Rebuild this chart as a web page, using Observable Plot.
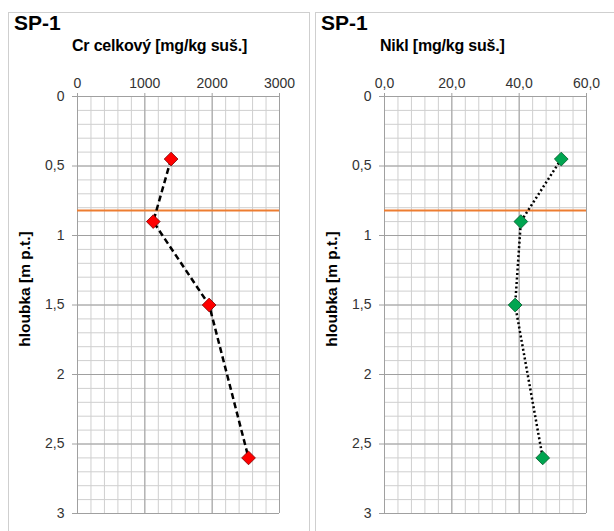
<!DOCTYPE html>
<html>
<head>
<meta charset="utf-8">
<script src="https://cdn.jsdelivr.net/npm/d3@7"></script>
<script src="https://cdn.jsdelivr.net/npm/@observablehq/plot@0.6"></script>
<style>
  html, body { margin: 0; padding: 0; background: #fff; }
  #wrap { position: relative; width: 614px; height: 531px; overflow: hidden; background: #fff;
          font-family: "Liberation Sans", Arial, sans-serif; }
  .panel { position: absolute; top: 12px; height: 560px; border: 1.5px solid #cfcfcf; box-sizing: border-box; }
  .title { position: absolute; font-weight: bold; font-size: 21px; color: #000; }
  .sub { position: absolute; font-weight: bold; font-size: 16px; color: #000; letter-spacing: -0.2px; }
  .chart { position: absolute; top: 0; }
  .chart svg { overflow: visible; }
</style>
</head>
<body>
<div id="wrap">
  <div class="panel" style="left:8px;width:302px"></div>
  <div class="panel" style="left:315px;width:310px"></div>
  <div class="title" style="left:14px;top:11px">SP-1</div>
  <div class="title" style="left:321px;top:11px">SP-1</div>
  <div class="sub" id="sub1" style="left:72px;top:37px"></div>
  <div class="sub" id="sub2" style="left:380px;top:37px"></div>
  <div class="chart" id="c1" style="left:0px"></div>
  <div class="chart" id="c2" style="left:307px"></div>
</div>
<script>
// ---- data ----
const depths = [0.45, 0.9, 1.5, 2.6];
const crValues = [1390, 1125, 1955, 2540];
const niValues = [52.5, 40.5, 38.8, 47.0];
const boundaryDepth = [0.82];
const titleText = "SP-1";
const crLabel = "Cr celkový [mg/kg suš.]";
const niLabel = "Nikl [mg/kg suš.]";
const yLabel = "hloubka [m p.t.]";
const yTicks = [0, 0.5, 1, 1.5, 2, 2.5, 3];
const crTicks = [0, 1000, 2000, 3000];
const niTicks = [0, 20, 40, 60];

document.getElementById("sub1").textContent = crLabel;
document.getElementById("sub2").textContent = niLabel;

const yMinor = d3.range(0, 31).map(i => i / 10);
const commaFmt = d => String(d).replace(".", ",");

function panel(values, xMax, xTicks, xFmt, lineDash, lineCap, fill, stroke) {
  const xMinor = d3.range(0, 16).map(i => i * xMax / 15);
  const data = depths.map((d, i) => ({depth: d, v: values[i]}));
  return Plot.plot({
    width: 307,
    height: 531,
    marginLeft: 77,
    marginRight: 28,
    marginTop: 96,
    marginBottom: 18,
    style: {fontFamily: "Liberation Sans, Arial, sans-serif", fontSize: "14px", color: "#404040", background: "transparent"},
    x: {domain: [0, xMax]},
    y: {domain: [0, 3], reverse: true},
    marks: [
      Plot.gridX(xMinor, {stroke: "#cfcfcf", strokeOpacity: 1, strokeWidth: 1}),
      Plot.gridY(yMinor, {stroke: "#cfcfcf", strokeOpacity: 1, strokeWidth: 1}),
      Plot.gridX(xTicks, {stroke: "#a0a0a0", strokeOpacity: 1, strokeWidth: 1}),
      Plot.gridY(yTicks, {stroke: "#a0a0a0", strokeOpacity: 1, strokeWidth: 1}),
      Plot.axisX({anchor: "top", ticks: xTicks, tickFormat: xFmt, tickSize: 4, tickPadding: 5, label: null, stroke: "#a0a0a0", fill: "#333333", fontSize: 14}),
      Plot.axisY({anchor: "left", ticks: yTicks, tickFormat: commaFmt, tickSize: 5, tickPadding: 8, label: null, stroke: "#a0a0a0", fill: "#333333", fontSize: 14}),
      Plot.text([yLabel], {frameAnchor: "left", textAnchor: "middle", dx: -52, dy: -16, rotate: -90, text: d => d,
        fontWeight: "bold", fontSize: 15.5, fill: "#000"}),
      Plot.ruleY(boundaryDepth, {stroke: "#ED7D31", strokeWidth: 2}),
      Plot.line(data, {x: "v", y: "depth", stroke: "#000", strokeWidth: 2.5, strokeDasharray: lineDash, strokeLinecap: lineCap, curve: "linear"}),
      Plot.dot(data, {x: "v", y: "depth", symbol: "diamond2", r: 6.2, fill: fill, stroke: stroke, strokeWidth: 0.8})
    ]
  });
}

document.getElementById("c1").appendChild(
  panel(crValues, 3000, crTicks, d => String(d), "6,3.5", "butt", "#ff0000", "#7a0000"));
document.getElementById("c2").appendChild(
  panel(niValues, 60, niTicks, d => d.toFixed(1).replace(".", ","), "2,2.5", "butt", "#00a550", "#005a2a"));
</script>
</body>
</html>
